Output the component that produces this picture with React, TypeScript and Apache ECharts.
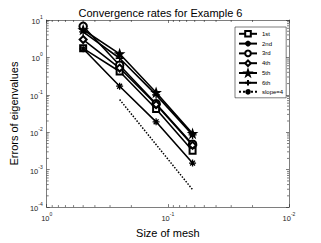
import React, { useEffect, useRef } from "react";
import * as echarts from "echarts";

const meshSizes = [0.5, 0.25, 0.125, 0.0625];
const seriesNames = ["1st", "2nd", "3rd", "4th", "5th", "6th"];
const err1st = [1.75, 0.42, 0.042, 0.0032];
const err2nd = [1.7, 0.17, 0.019, 0.0015];
const err3rd = [6.8, 0.62, 0.058, 0.0048];
const err4th = [3.0, 0.52, 0.055, 0.0045];
const err5th = [5.5, 1.25, 0.115, 0.0092];
const err6th = [4.8, 0.95, 0.1, 0.0085];
const slopeX = [0.25, 0.0625];
const slopeY = [0.075, 0.000293];
const xMinorTicks = [-2, -1].flatMap((e) => [2, 3, 4, 5, 6, 7, 8, 9].map((m) => m * Math.pow(10, e)));
const yMinorTicks = [-4, -3, -2, -1, 0].flatMap((e) => [2, 3, 4, 5, 6, 7, 8, 9].map((m) => m * Math.pow(10, e)));

const AX = "#262626";
const FONT = "Liberation Sans";

const asterisk = "path://M10,0 L10,20 M0,10 L20,10 M3,3 L17,17 M3,17 L17,3";
const plus = "path://M10,0 L10,20 M0,10 L20,10";
const star =
  "path://M10,0 L12.35,6.76 L19.51,6.91 L13.8,11.24 L15.88,18.09 L10,14 L4.12,18.09 L6.2,11.24 L0.49,6.91 L7.65,6.76 Z";

const symbols = ["emptyRect", asterisk, "emptyCircle", "emptyDiamond", star, plus];
const sizes = [6, 7, 7.5, 7, 8, 8];
const allErr = [err1st, err2nd, err3rd, err4th, err5th, err6th];

const expLabel = (v: number) => {
  const e = Math.round(Math.log10(v));
  return `{b|10}{s|${e}}`;
};
const rich = {
  b: { fontSize: 7.5, lineHeight: 11, verticalAlign: "bottom", color: AX, fontFamily: FONT },
  s: { fontSize: 5, lineHeight: 6, verticalAlign: "top", color: AX, fontFamily: FONT },
};

export default function App() {
  const ref = useRef<HTMLDivElement>(null);
  useEffect(() => {
    const chart = echarts.init(ref.current!, null, { renderer: "svg" });
    const axisCommon = {
      type: "log",
      logBase: 10,
      axisLine: { show: true, lineStyle: { color: AX, width: 0.6 } },
      axisTick: { show: true, inside: true, length: 3, lineStyle: { color: AX, width: 0.6 } },
      splitLine: { show: false },
    };
    const lineSeries = seriesNames.map((name, i) => ({
      name,
      type: "line",
      xAxisIndex: 0,
      yAxisIndex: 0,
      data: meshSizes.map((x, j) => [x, allErr[i][j]]),
      symbol: symbols[i],
      symbolSize: sizes[i],
      lineStyle: { color: "#000", width: 1.6 },
      itemStyle: {
        color: "#000",
        borderColor: "#000",
        borderWidth: 1.3,
      },
      z: 3,
    }));
    chart.setOption({
      animation: false,
      backgroundColor: "#fff",
      title: {
        text: "Convergence rates for Example 6",
        left: "center",
        top: 2,
        textStyle: { fontSize: 11, fontWeight: "normal", color: "#000", fontFamily: FONT },
      },
      grid: { left: 42, right: 32, top: 20, bottom: 33 },
      legend: {
        data: [...seriesNames, "slope=4"],
        orient: "vertical",
        left: 235,
        top: 27,
        itemWidth: 18,
        itemHeight: 7,
        itemGap: 2.2,
        padding: [3, 3, 3, 3],
        backgroundColor: "#fff",
        borderColor: AX,
        borderWidth: 0.6,
        textStyle: { fontSize: 6, color: "#000", fontFamily: FONT },
      },
      xAxis: [
        {
          ...axisCommon,
          min: 0.01,
          max: 1,
          inverse: true,
          position: "bottom",
          name: "Size of mesh",
          nameLocation: "middle",
          nameGap: 18,
          nameTextStyle: { fontSize: 11, color: "#000", fontFamily: FONT },
          axisLabel: { formatter: expLabel, rich, margin: 4 },
        },
        {
          ...axisCommon,
          min: 0.01,
          max: 1,
          inverse: true,
          position: "top",
          axisLabel: { show: false },
        },
      ],
      yAxis: [
        {
          ...axisCommon,
          min: 1e-4,
          max: 10,
          position: "left",
          name: "Errors of eigenvalues",
          nameLocation: "middle",
          nameGap: 22,
          nameTextStyle: { fontSize: 11, color: "#000", fontFamily: FONT },
          axisLabel: { formatter: expLabel, rich, margin: 4 },
        },
        {
          ...axisCommon,
          min: 1e-4,
          max: 10,
          position: "right",
          axisLabel: { show: false },
        },
      ],
      series: [
        ...lineSeries,
        {
          name: "slope=4",
          type: "line",
          data: slopeX.map((x, j) => [x, slopeY[j]]),
          symbol: "none",
          lineStyle: { color: "#000", width: 1.5, type: "dotted" },
          itemStyle: { color: "#000" },
          z: 2,
        },
        {
          type: "custom",
          silent: true,
          clip: false,
          data: xMinorTicks.map((v) => [v, 1e-4]),
          renderItem: (params: any, api: any) => {
            const v = api.value(0);
            const b = api.coord([v, 1e-4]);
            const t = api.coord([v, 10]);
            return {
              type: "group",
              children: [
                { type: "line", shape: { x1: b[0], y1: b[1], x2: b[0], y2: b[1] - 2 }, style: { stroke: AX, lineWidth: 0.6 } },
                { type: "line", shape: { x1: t[0], y1: t[1], x2: t[0], y2: t[1] + 2 }, style: { stroke: AX, lineWidth: 0.6 } },
              ],
            };
          },
        },
        {
          type: "custom",
          silent: true,
          clip: false,
          data: yMinorTicks.map((v) => [1, v]),
          renderItem: (params: any, api: any) => {
            const v = api.value(1);
            const l = api.coord([1, v]);
            const r = api.coord([0.01, v]);
            return {
              type: "group",
              children: [
                { type: "line", shape: { x1: l[0], y1: l[1], x2: l[0] + 2, y2: l[1] }, style: { stroke: AX, lineWidth: 0.6 } },
                { type: "line", shape: { x1: r[0], y1: r[1], x2: r[0] - 2, y2: r[1] }, style: { stroke: AX, lineWidth: 0.6 } },
              ],
            };
          },
        },
      ],
    });
    return () => chart.dispose();
  }, []);
  return <div ref={ref} style={{ width: 321, height: 243, position: "absolute", left: 0, top: 0 }} />;
}
